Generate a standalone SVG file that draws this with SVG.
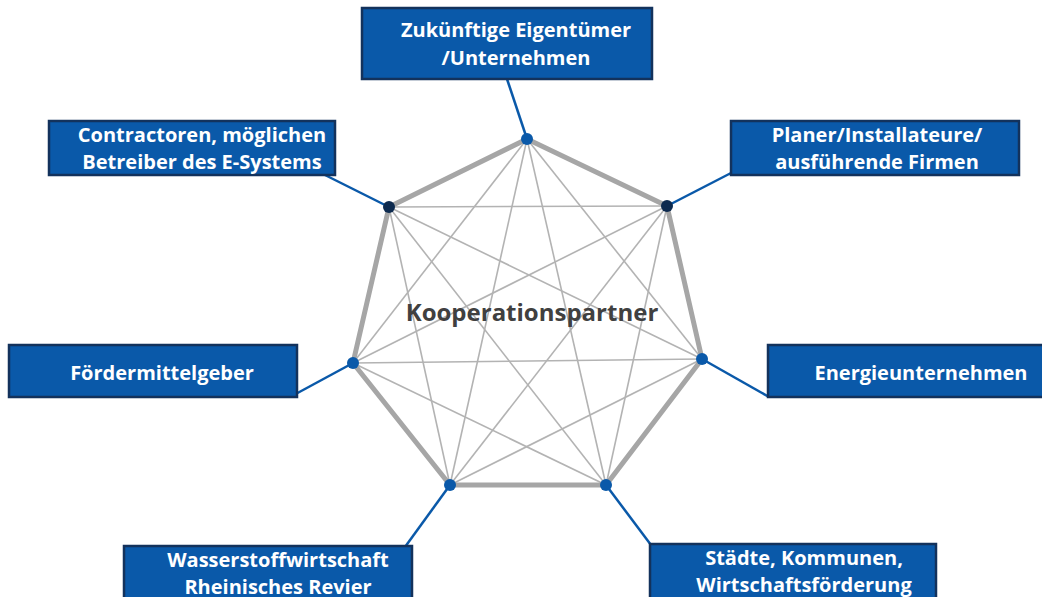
<svg xmlns="http://www.w3.org/2000/svg" width="1042" height="597" viewBox="0 0 1042 597">
<style>
.box{fill:#0a59a9;stroke:#13325c;stroke-width:2.5}
.bt{font-family:"Open Sans","Noto Sans",sans-serif;font-weight:bold;font-size:20px;fill:#ffffff;text-anchor:middle}
.edge{stroke:#a6a6a6;stroke-width:5;fill:none;stroke-linejoin:round}
.diag{stroke:#b3b3b3;stroke-width:1.6}
.conn{stroke:#0a59a9;stroke-width:2.5}
.dot{fill:#0a59a9}
.dotd{fill:#0d2a4f}
.ct{font-family:"Open Sans","Noto Sans",sans-serif;font-weight:bold;font-size:24px;fill:#404040;text-anchor:middle}
</style>
<rect width="1042" height="597" fill="#ffffff"/>
<g id="connectors">
<g id="diagonals">
<line class="diag" x1="527" y1="139" x2="702" y2="359"/>
<line class="diag" x1="527" y1="139" x2="606" y2="485"/>
<line class="diag" x1="527" y1="139" x2="450" y2="485"/>
<line class="diag" x1="527" y1="139" x2="353" y2="363"/>
<line class="diag" x1="667" y1="206" x2="606" y2="485"/>
<line class="diag" x1="667" y1="206" x2="450" y2="485"/>
<line class="diag" x1="667" y1="206" x2="353" y2="363"/>
<line class="diag" x1="667" y1="206" x2="389" y2="207"/>
<line class="diag" x1="702" y1="359" x2="450" y2="485"/>
<line class="diag" x1="702" y1="359" x2="353" y2="363"/>
<line class="diag" x1="702" y1="359" x2="389" y2="207"/>
<line class="diag" x1="606" y1="485" x2="353" y2="363"/>
<line class="diag" x1="606" y1="485" x2="389" y2="207"/>
<line class="diag" x1="450" y1="485" x2="389" y2="207"/>
</g>
<polygon class="edge" points="527,139 667,206 702,359 606,485 450,485 353,363 389,207"/>
<line class="conn" x1="527" y1="139" x2="507" y2="79"/>
<line class="conn" x1="667" y1="206" x2="731" y2="173"/>
<line class="conn" x1="702" y1="359" x2="769" y2="397"/>
<line class="conn" x1="606" y1="485" x2="651" y2="545"/>
<line class="conn" x1="450" y1="485" x2="405" y2="547"/>
<line class="conn" x1="353" y1="363" x2="292" y2="396"/>
<line class="conn" x1="389" y1="207" x2="323" y2="174"/>
</g>
<g id="center">
<text class="ct" x="532" y="321">Kooperationspartner</text>
</g>
<g id="v0"><circle class="dot" cx="527" cy="139" r="6"/></g>
<g id="v1"><circle class="dotd" cx="667" cy="206" r="6"/></g>
<g id="v2"><circle class="dot" cx="702" cy="359" r="6"/></g>
<g id="v3"><circle class="dot" cx="606" cy="485" r="6"/></g>
<g id="v4"><circle class="dot" cx="450" cy="485" r="6"/></g>
<g id="v5"><circle class="dot" cx="353" cy="363" r="6"/></g>
<g id="v6"><circle class="dotd" cx="389" cy="207" r="6"/></g>
<g id="n-top">
<rect class="box" x="362" y="8" width="290" height="71"/>
<text class="bt" x="516" y="37">Zukünftige Eigentümer</text>
<text class="bt" x="516" y="65">/Unternehmen</text>
</g>
<g id="n-upper-left">
<rect class="box" x="49" y="121" width="286" height="54"/>
<text class="bt" x="202" y="142">Contractoren, möglichen</text>
<text class="bt" x="202" y="169">Betreiber des E-Systems</text>
</g>
<g id="n-upper-right">
<rect class="box" x="731" y="121" width="288" height="54"/>
<text class="bt" x="877" y="142">Planer/Installateure/</text>
<text class="bt" x="877" y="169">ausführende Firmen</text>
</g>
<g id="n-left">
<rect class="box" x="9" y="345" width="288" height="52"/>
<text class="bt" x="162" y="380">Fördermittelgeber</text>
</g>
<g id="n-right">
<rect class="box" x="768" y="345" width="280" height="52"/>
<text class="bt" x="921" y="380">Energieunternehmen</text>
</g>
<g id="n-bottom-left">
<rect class="box" x="124" y="546" width="288" height="60"/>
<text class="bt" x="278" y="567">Wasserstoffwirtschaft</text>
<text class="bt" x="278" y="594">Rheinisches Revier</text>
</g>
<g id="n-bottom-right">
<rect class="box" x="650" y="544" width="286" height="62"/>
<text class="bt" x="804" y="565">Städte, Kommunen,</text>
<text class="bt" x="804" y="592">Wirtschaftsförderung</text>
</g>
</svg>
